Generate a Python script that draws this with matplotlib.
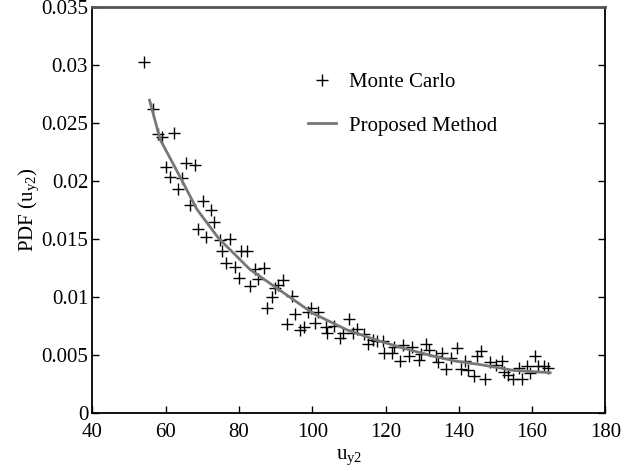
import numpy as np
import matplotlib
matplotlib.use("Agg")
import matplotlib.pyplot as plt

plt.rcParams["font.family"] = ["Liberation Serif", "DejaVu Serif"]

# Monte Carlo samples
mc_x = [54.2, 56.6, 57.8, 58.9, 62.3, 60.1, 61.2, 65.6, 68.0, 64.4,
        63.5, 70.1, 66.7, 72.4, 73.3, 68.8, 71.0, 77.6, 74.7, 75.4,
        80.6, 82.1, 76.5, 78.8, 84.4, 86.7, 80.1, 85.3, 83.0, 92.0,
        90.6, 89.7, 94.4, 89.0, 87.6, 95.3, 99.7, 98.8, 101.7, 93.2,
        96.7, 97.8, 100.8, 103.7, 104.0, 105.8, 109.9, 108.5, 107.6, 111.1,
        112.2, 114.0, 115.3, 116.5, 117.6, 119.4, 119.7, 121.7, 122.2, 124.0,
        124.8, 126.4, 127.2, 129.0, 129.6, 131.1, 131.9, 133.8, 135.4, 134.4,
        136.5, 137.8, 139.5, 140.6, 141.7, 142.5, 144.0, 144.9, 146.1, 147.2,
        148.5, 150.2, 151.7, 152.2, 153.5, 154.7, 156.3, 157.2, 158.6, 159.5,
        160.8, 161.7, 163.1, 164.4]
mc_y = [0.0303, 0.0262, 0.0241, 0.0238, 0.0242, 0.0212, 0.0204, 0.0216, 0.0214, 0.0203,
        0.0193, 0.0183, 0.0180, 0.0175, 0.0165, 0.0159, 0.0152, 0.0150, 0.0149, 0.0140,
        0.0140, 0.0140, 0.0130, 0.0126, 0.0124, 0.0125, 0.0117, 0.0116, 0.0110, 0.0115,
        0.0111, 0.0108, 0.0101, 0.0100, 0.0091, 0.0086, 0.0091, 0.0087, 0.0087, 0.0077,
        0.0072, 0.0074, 0.0078, 0.0074, 0.0069, 0.0075, 0.0081, 0.0069, 0.0065, 0.0069,
        0.0073, 0.0068, 0.0060, 0.0063, 0.0062, 0.0062, 0.0052, 0.0052, 0.0057, 0.0045,
        0.0059, 0.0049, 0.0057, 0.0046, 0.0051, 0.0060, 0.0055, 0.0049, 0.0052, 0.0044,
        0.0038, 0.0048, 0.0056, 0.0038, 0.0045, 0.0037, 0.0032, 0.0049, 0.0054, 0.0030,
        0.0044, 0.0042, 0.0045, 0.0036, 0.0033, 0.0030, 0.0039, 0.0030, 0.0041, 0.0035,
        0.0049, 0.0041, 0.0041, 0.0039]

# proposed method curve
pm_x = [55.6, 58.5, 63.9, 68.5, 74.4, 83.0, 91.2, 100.3, 109.4, 117.6,
        125.0, 132.2, 139.0, 145.8, 154.9, 164.9]
pm_y = [0.0270, 0.0236, 0.0204, 0.0176, 0.0151, 0.0124, 0.0106, 0.0086, 0.0072, 0.0063,
        0.0056, 0.0050, 0.0045, 0.0042, 0.0037, 0.0035]

xticks = [40, 60, 80, 100, 120, 140, 160, 180]
yticks = [0, 0.005, 0.01, 0.015, 0.02, 0.025, 0.03, 0.035]
ytick_labels = ["0", "0.005", "0.01", "0.015", "0.02", "0.025", "0.03", "0.035"]

fig = plt.figure(figsize=(6.37, 4.71), dpi=100)
ax = fig.add_axes([0.145, 0.1225, 0.8055, 0.862])

ax.plot(mc_x, mc_y, linestyle="none", marker="+", color="black",
        markersize=8, markeredgewidth=1.0, label="Monte Carlo")
ax.plot(pm_x, pm_y, color="#777777", linewidth=2, label="Proposed Method")

ax.set_xlim(40, 180)
ax.set_ylim(0, 0.035)
ax.set_xticks(xticks)
ax.set_xticklabels([str(t) for t in xticks])
ax.set_yticks(yticks)
ax.set_yticklabels(ytick_labels)
ax.tick_params(direction="in", labelsize=15, length=5, width=1, right=True, top=False)
ax.tick_params(axis="x", pad=7)
ax.tick_params(axis="y", pad=3)

for side in ["left", "bottom", "right"]:
    ax.spines[side].set_linewidth(1.3)
    ax.spines[side].set_color("black")
ax.spines["top"].set_color("#555555")
ax.spines["top"].set_linewidth(2)

ax.set_xlabel(r"$\mathregular{u_{y2}}$", fontsize=15, labelpad=4)
ax.set_ylabel(r"PDF ($\mathregular{u_{y2}}$)", fontsize=15, labelpad=0)

ax.legend(loc="upper left", bbox_to_anchor=(298 / 637, 1 - 62 / 471),
          bbox_transform=fig.transFigure, frameon=False, fontsize=15,
          borderpad=0, handlelength=1.3, handletextpad=0.65, labelspacing=1.15)

fig.savefig("out.png", dpi=100)
